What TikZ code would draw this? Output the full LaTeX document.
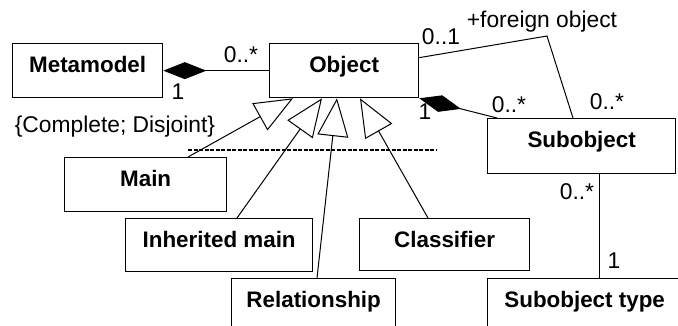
\documentclass[tikz,border=0pt]{standalone}
\usepackage{fontspec}
\setmainfont{Liberation Sans}
\usetikzlibrary{arrows.meta}
\begin{document}
\begin{tikzpicture}[x=1pt,y=-1pt,
  font=\fontsize{22.8}{26}\selectfont,
  cls/.style={draw, line width=1.3pt, inner sep=0pt, anchor=north west,
    text height=29pt, text depth=#1, font=\fontsize{22.4}{26}\selectfont\bfseries},
  cls/.default=25pt,
  conn/.style={line width=1pt},
  gen/.style={conn, -{Triangle[length=38pt, width=31pt, fill=white, line width=1pt]}},
  comp/.style={conn, {Diamond[length=43pt, width=17pt, line width=1pt]}-},
  mult/.style={anchor=base, inner sep=0pt}
]
\useasboundingbox (0,0) rectangle (678,326);

% classes
\node[cls, minimum width=150pt] (meta) at (12,43) {Metamodel};
\node[cls, minimum width=149pt] (obj) at (269,43) {Object};
\node[cls=26pt, minimum width=188pt] (sub) at (487,118) {Subobject};
\node[cls, minimum width=162pt] (main) at (64,157) {Main};
\node[cls=24pt, minimum width=187pt] (inh) at (125,218) {Inherited main};
\node[cls=23pt, minimum width=170pt] (clsf) at (359,218) {Classifier};
\node[cls, minimum width=164pt] (rel) at (231,278) {Relationship};
\node[cls, minimum width=194pt] (stype) at (487,278) {Subobject type};

% Metamodel composes Object
\draw[comp] (meta.east) -- (obj.west);
\node[mult] (m1) at (241,63) {0..*};
\node[mult] (m2) at (178,100) {1};

% Object composes Subobject
\draw[comp] (obj.south east) -- ([xshift=10pt]sub.north west);
\node[mult] (m3) at (425,120) {1};
\node[mult] (m4) at (509,113) {0..*};

% foreign object association
\coordinate (bend) at (547,36);
\draw[conn] ([yshift=13pt]obj.east) -- (bend) -- ([xshift=86pt]sub.north west);
\node[mult] (m5) at (441,45) {0..1};
\node[mult] (role) at (542,28) {+foreign object};
\node[mult] (m6) at (607,110) {0..*};

% Subobject to Subobject type
\draw[conn] ([xshift=112pt]sub.south west) -- ([xshift=112pt]stype.north west);
\node[mult] (m7) at (577,200) {0..*};
\node[mult] (m8) at (614,269) {1};

% generalizations
\draw[gen] ([xshift=124pt]main.north west) -- ([xshift=24pt]obj.south west);
\draw[gen] ([xshift=112pt]inh.north west) -- ([xshift=53pt]obj.south west);
\draw[gen] ([xshift=86pt]rel.north west) -- ([xshift=68pt]obj.south west);
\draw[gen] ([xshift=69pt]clsf.north west) -- ([xshift=91pt]obj.south west);

% generalization set
\coordinate (dl) at (188,150);
\coordinate (dr) at (437,150);
\draw[line width=1.2pt, dash pattern=on 4pt off 1.5pt] (dl) -- (dr);
\node[mult] (gs) at (115,133) {\{Complete; Disjoint\}};
\end{tikzpicture}
\end{document}
